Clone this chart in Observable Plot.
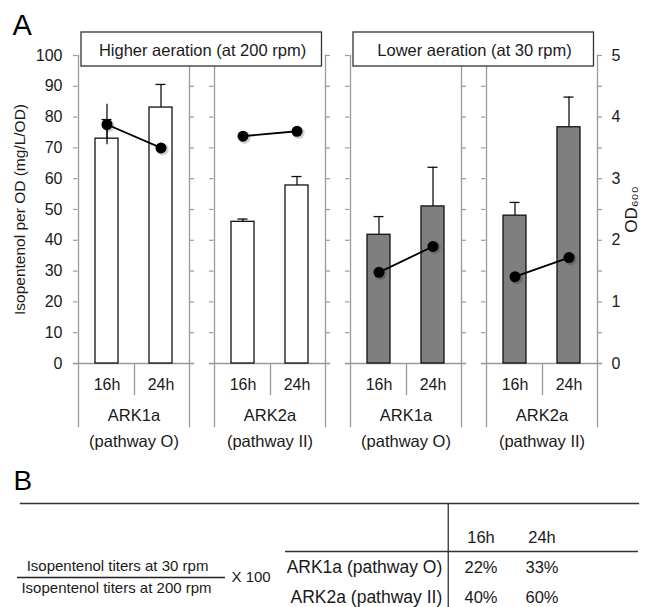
<!DOCTYPE html>
<html>
<head>
<meta charset="utf-8">
<script src="https://cdn.jsdelivr.net/npm/d3@7"></script>
<script src="https://cdn.jsdelivr.net/npm/@observablehq/plot@0.6"></script>
<style>
  html, body { margin: 0; padding: 0; background: white; }
  svg { display: block; }
</style>
</head>
<body>
<div id="chart"></div>
<script>
// ---------- data (panel A) ----------
const strains   = ["ARK1a", "ARK2a", "ARK1a", "ARK2a"];
const pathways  = ["(pathway O)", "(pathway II)", "(pathway O)", "(pathway II)"];
const aerations = [200, 200, 30, 30];
const times     = ["16h", "24h"];
// isopentenol per OD (mg/L/OD), per group: [16h, 24h]
const titer     = [[73.0, 83.1], [46.0, 57.8], [41.8, 51.0], [48.0, 76.7]];
const titerErr  = [[6.2, 7.5], [0.9, 2.9], [5.9, 12.7], [4.3, 9.8]];
// OD600 per group: [16h, 24h]
const od600     = [[3.88, 3.50], [3.69, 3.77], [1.48, 1.90], [1.41, 1.72]];
const od600Err  = [[0.33, 0], [0, 0], [0, 0], [0, 0]];
const headerLabels = {200: "Higher aeration (at 200 rpm)", 30: "Lower aeration (at 30 rpm)"};
const yTicks    = [0, 10, 20, 30, 40, 50, 60, 70, 80, 90, 100];
const odTicks   = [0, 1, 2, 3, 4, 5];
const yLabel    = "Isopentenol per OD (mg/L/OD)";
const odLabel   = "OD₆₀₀";

// ---------- data (panel B) ----------
const ratioRows = ["ARK1a (pathway O)", "ARK2a (pathway II)"];
const ratio16   = [22, 40];
const ratio24   = [33, 60];
const fracNum   = "Isopentenol titers at 30 rpm";
const fracDen   = "Isopentenol titers at 200 rpm";
const fracMul   = "X 100";

// ---------- derived tables ----------
const groupKeys = strains.map((s, i) => `${s} ${pathways[i]} @${aerations[i]}`);
const groupInfo = groupKeys.map((k, i) => ({key: k, strain: strains[i], pathway: pathways[i]}));
const bars = groupKeys.flatMap((k, i) => times.map((t, j) => ({
  group: k, time: t, value: titer[i][j], err: titerErr[i][j], rpm: aerations[i],
  od: od600[i][j], odErr: od600Err[i][j]
})));
const odToY = 100 / 5; // secondary axis 0–5 mapped to 0–100
const headers = [200, 30].map(r => ({label: headerLabels[r], group: groupKeys[aerations.indexOf(r)]}));
const cells = ratioRows.flatMap((r, i) => [
  {row: r, col: times[0], v: ratio16[i]},
  {row: r, col: times[1], v: ratio24[i]}
]);

// ---------- layout ----------
const W = 648;
const mLeft = 77, mRight = 50, fxPad = 0.183;
const plotW = W - mLeft - mRight;
const fxStep = plotW / (groupKeys.length - fxPad);
const facetW = fxStep * (1 - fxPad);
const facetGap = fxStep * fxPad;
const xPadIn = 0.582, xPadOut = 0.3045;
const xStep = facetW / (times.length - xPadIn + 2 * xPadOut);
const yTopPx = 55, yZeroPx = 363, frameBottom = 426, HA = 455;
const gray = "#9a9a9a", ink = "#1a1a1a";
const font = "'Liberation Sans', Arial, Helvetica, sans-serif";

const chartA = Plot.plot({
  width: W,
  height: HA,
  marginLeft: mLeft,
  marginRight: mRight,
  marginTop: yTopPx,
  marginBottom: HA - frameBottom,
  style: {fontFamily: font, fontSize: "16px", color: ink, background: "white"},
  fx: {domain: groupKeys, paddingInner: fxPad, paddingOuter: 0, axis: null, label: null},
  x: {domain: times, paddingInner: xPadIn, paddingOuter: xPadOut, axis: null, label: null},
  y: {domain: [0, 100], range: [yZeroPx, yTopPx], label: null},
  marks: [
    // panel side lines
    Plot.frame({anchor: "left", stroke: gray, strokeWidth: 1.3}),
    Plot.frame({anchor: "right", stroke: gray, strokeWidth: 1.3}),
    // outward ticks on both sides of every panel
    Plot.ruleY(yTicks, {y: d => d, insetLeft: -5, insetRight: facetW, stroke: gray, strokeWidth: 1.2}),
    Plot.ruleY(yTicks, {y: d => d, insetLeft: facetW, insetRight: -5, stroke: gray, strokeWidth: 1.2}),
    Plot.ruleY([0], {insetLeft: -5, insetRight: -5, stroke: gray, strokeWidth: 1.3}),
    // separator between 16h and 24h below the axis
    Plot.ruleX([times[0]], {x: d => d, dx: xStep / 2, insetTop: yZeroPx - yTopPx, insetBottom: frameBottom - 395, stroke: gray, strokeWidth: 1.3}),
    // bars
    Plot.barY(bars, {fx: "group", x: "time", y: "value",
      fill: d => d.rpm === 200 ? "white" : "#7f7f7f", stroke: "#111", strokeWidth: 1.3}),
    // error bars (plus side)
    Plot.ruleX(bars, {fx: "group", x: "time", y1: "value", y2: d => d.value + d.err, stroke: "#111", strokeWidth: 1.3}),
    Plot.tickY(bars, {fx: "group", x: "time", y: d => d.value + d.err, insetLeft: 6.5, insetRight: 6.5, stroke: "#111", strokeWidth: 1.3}),
    // OD600 error
    Plot.ruleX(bars.filter(d => d.odErr > 0), {fx: "group", x: "time",
      y1: d => (d.od - d.odErr) * odToY, y2: d => (d.od + d.odErr) * odToY, stroke: "#111", strokeWidth: 1.3}),
    // OD600 line + dots
    Plot.line(bars, {fx: "group", x: "time", y: d => d.od * odToY, stroke: "#000", strokeWidth: 1.8}),
    Plot.dot(bars, {fx: "group", x: "time", y: d => d.od * odToY, r: 6.2, fill: "#000", fillOpacity: 0.18, dx: 1.5, dy: 1.5}),
    Plot.dot(bars, {fx: "group", x: "time", y: d => d.od * odToY, r: 5.5, fill: "#000"}),
    // category labels below
    Plot.text(times, {x: d => d, text: d => d, frameAnchor: "bottom", dy: 384 - frameBottom, lineAnchor: "middle", textAnchor: "middle", fontSize: 16, fill: ink}),
    Plot.text(groupInfo, {fx: "key", text: "strain", frameAnchor: "bottom", dy: 415 - frameBottom, lineAnchor: "middle", textAnchor: "middle", fontSize: 16.5, fill: ink}),
    Plot.text(groupInfo, {fx: "key", text: "pathway", frameAnchor: "bottom", dy: 441 - frameBottom, lineAnchor: "middle", textAnchor: "middle", fontSize: 16.5, fill: ink}),
    // header boxes spanning two panels
    Plot.rect(headers, {fx: "group", fill: "white", stroke: "#333", strokeWidth: 1.3,
      insetLeft: 3, insetRight: -(facetW + facetGap) + 4,
      insetTop: -23, insetBottom: (frameBottom - yTopPx) + 23 - 34}),
    Plot.text(headers, {fx: "group", text: "label", frameAnchor: "top-left",
      dx: (2 * facetW + facetGap) / 2, dy: -5, lineAnchor: "middle", textAnchor: "middle", fontSize: 16.5, fill: ink}),
    // axes
    Plot.axisY({anchor: "left", ticks: yTicks, tickSize: 0, tickPadding: 16, fontSize: 16, label: null, fill: ink}),
    Plot.axisY({anchor: "right", ticks: odTicks.map(v => v * odToY), tickFormat: v => v / odToY,
      tickSize: 0, tickPadding: 14, fontSize: 16, label: null, fill: ink}),
    Plot.text([yLabel], {fx: () => groupKeys[0], y: () => 50, frameAnchor: "left", dx: -58,
      rotate: -90, text: d => d, fontSize: 15.5, textAnchor: "middle", lineAnchor: "middle", fill: ink}),
    Plot.text([odLabel], {fx: () => groupKeys[groupKeys.length - 1], y: () => 50, frameAnchor: "right", dx: 34,
      rotate: -90, text: d => d, fontSize: 17, textAnchor: "middle", lineAnchor: "middle", fill: ink}),
    // panel letter
    Plot.text(["A"], {fx: () => groupKeys[0], frameAnchor: "top-left", dx: 11 - mLeft, dy: 14 - yTopPx,
      text: d => d, lineAnchor: "top", textAnchor: "start", fontSize: 29, fill: "#000"})
  ]
});

// ---------- panel B ----------
const HB = 607 - HA;
const bTop = 48, bLeft = 20, bRight = 10;
const colRange = [449, 572];
const colBand = (colRange[1] - colRange[0]) / times.length;
const chartB = Plot.plot({
  width: W,
  height: HB,
  marginTop: bTop, marginLeft: bLeft, marginRight: bRight, marginBottom: 0,
  style: {fontFamily: font, fontSize: "16.5px", color: ink, background: "white"},
  x: {type: "band", domain: times, range: colRange, padding: 0, axis: null},
  y: {type: "point", domain: ["header", ...ratioRows], range: [82, 142], padding: 0, axis: null},
  marks: [
    Plot.frame({anchor: "top", stroke: "#333", strokeWidth: 1.3}),
    Plot.ruleX([times[0]], {x: d => d, dx: -colBand / 2 - 2, stroke: "#333", strokeWidth: 1.3}),
    Plot.ruleY(["header"], {y: d => d, dy: 14, insetLeft: 285 - bLeft, stroke: "#333", strokeWidth: 1.3}),
    Plot.text(times, {x: d => d, y: () => "header", text: d => d, fill: ink}),
    Plot.text(ratioRows, {x: () => times[0], y: d => d, text: d => d, dx: -colBand / 2 - 8, textAnchor: "end", fontSize: 17.5, fill: ink}),
    Plot.text(cells, {x: "col", y: "row", text: d => `${d.v}%`, fill: ink}),
    // ratio definition
    Plot.text([fracNum], {frameAnchor: "top-left", dx: 117 - bLeft, dy: 63, text: d => d, textAnchor: "middle", lineAnchor: "middle", fontSize: 15, fill: ink}),
    Plot.ruleY([ratioRows[0]], {y: d => d, dy: 10, insetLeft: 17 - bLeft, insetRight: (W - bRight) - 225, stroke: "#222", strokeWidth: 1.3}),
    Plot.text([fracDen], {frameAnchor: "top-left", dx: 116 - bLeft, dy: 85, text: d => d, textAnchor: "middle", lineAnchor: "middle", fontSize: 15, fill: ink}),
    Plot.text([fracMul], {frameAnchor: "top-left", dx: 231 - bLeft, dy: 74, text: d => d, textAnchor: "start", lineAnchor: "middle", fontSize: 15, fill: ink}),
    Plot.text(["B"], {frameAnchor: "top-left", dx: 13 - bLeft, dy: 15 - bTop, text: d => d, textAnchor: "start", lineAnchor: "top", fontSize: 28, fill: "#000"})
  ]
});

const root = document.getElementById("chart");
root.appendChild(chartA);
root.appendChild(chartB);
</script>
</body>
</html>
